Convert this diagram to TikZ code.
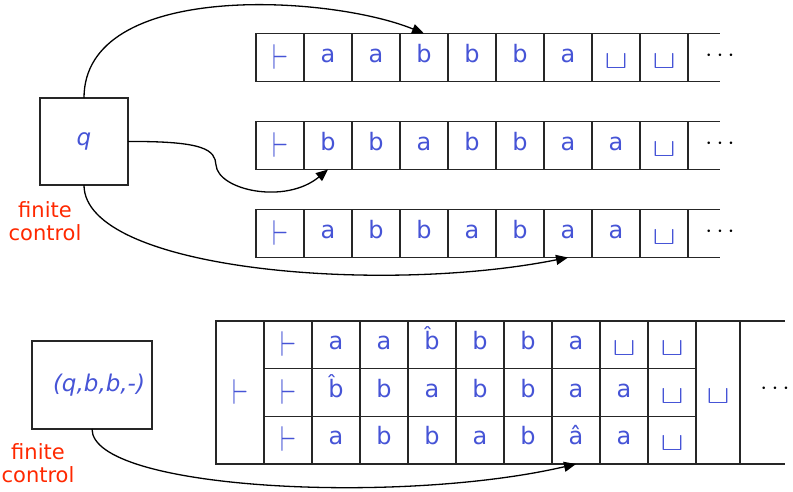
\documentclass[tikz,border=0pt]{standalone}
\usepackage{fontspec}
\setmainfont{DejaVu Sans}
\usetikzlibrary{arrows.meta,positioning,calc}

\definecolor{symblue}{RGB}{70,84,214}
\definecolor{ctlred}{RGB}{255,40,0}
\newcommand{\tstart}{\raisebox{-7pt}{\resizebox{16pt}{25pt}{$\vdash$}}}
\newcommand{\tblank}{\raisebox{-6pt}{\resizebox{23pt}{14pt}{$\sqcup$}}}

\tikzset{
  cell/.style={draw=black!85, line width=1.6pt, minimum width=48pt, minimum height=48pt,
    inner sep=0pt, outer sep=0pt, text height=9pt, text depth=0pt,
    font=\fontsize{24}{26}\selectfont, text=symblue},
  tapeline/.style={draw=black!85, line width=1.6pt},
  ctlbox/.style={draw=black!85, line width=1.6pt, inner sep=0pt, outer sep=0pt,
    font=\fontsize{23}{25}\selectfont\itshape, text=symblue},
  ctllabel/.style={align=center, text=ctlred, font=\fontsize{21}{23}\selectfont},
  tapedots/.style={inner sep=0pt, font=\fontsize{28}{30}\selectfont},
  link/.style={->, line width=1.3pt}
}

\begin{document}
\begin{tikzpicture}[x=1pt, y=-1pt, >={Triangle[length=12pt,width=10pt]}]
  \useasboundingbox (0,0) rectangle (793,491);
  % finite control, three tapes
  \node[ctlbox, minimum width=88pt, minimum height=87pt] (ctl) at (84,141.5) {q};
  \node[ctllabel] (ctllab) at (45,221) {finite\\control};
  % tapes
  \foreach \s [count=\i from 0] in {\tstart,a,a,b,b,b,a,\tblank,\tblank}
    \node[cell] (ta\i) at ({280+48*\i},57.5) {\s};
  \foreach \s [count=\i from 0] in {\tstart,b,b,a,b,b,a,a,\tblank}
    \node[cell] (tb\i) at ({280+48*\i},145.5) {\s};
  \foreach \s [count=\i from 0] in {\tstart,a,b,b,a,b,a,a,\tblank}
    \node[cell] (tc\i) at ({280+48*\i},233.5) {\s};
  \foreach \t in {ta,tb,tc} {
    \draw[tapeline] (\t8.north east) -- ++(32,0) (\t8.south east) -- ++(32,0);
    \node[tapedots] (\t dots) at ($(\t8.east)+(32,-2)$) {$\cdots$};
  }
  % heads
  \draw[link] (ctl.north) .. controls (84,-20) and (330,-5) .. (ta3.north);
  \draw[link] (ctl.east) .. controls (205,141) and (215,150) .. (216,165)
    .. controls (218,190) and (285,205) .. (tb1.south);
  \draw[link] (ctl.south) .. controls (84,270) and (380,295) .. (tc6.south);

  % finite control, one tape with three tracks
  \node[ctlbox, minimum width=120pt, minimum height=88pt] (ctlt) at (92,385) {\hspace{14pt}(q,b,b,-)};
  \node[ctllabel] (ctltlab) at (38,463) {finite\\control};
  \node[cell, minimum height=143pt] (gstart) at (240,392.5) {\tstart};
  \foreach \s [count=\i from 0] in {\tstart,a,a,\^{b},b,b,a,\tblank,\tblank}
    \node[cell, minimum height=47.67pt] (ga\i) at ({288+48*\i},344.8) {\s};
  \foreach \s [count=\i from 0] in {\tstart,\^{b},b,a,b,b,a,a,\tblank}
    \node[cell, minimum height=47.67pt] (gb\i) at ({288+48*\i},392.5) {\s};
  \foreach \s [count=\i from 0] in {\tstart,a,b,b,a,b,â,a,\tblank}
    \node[cell, minimum height=47.67pt] (gc\i) at ({288+48*\i},440.2) {\s};
  \node[cell, minimum width=44pt, minimum height=143pt] (gend) at (718,392.5) {\tblank};
  \draw[tapeline] (gend.north east) -- ++(45,0) (gend.south east) -- ++(45,0);
  \node[tapedots] (gdots) at (775,389) {$\cdots$};
  \draw[link] (ctlt.south) .. controls (92,490) and (400,505) .. (gc6.south);
\end{tikzpicture}
\end{document}
